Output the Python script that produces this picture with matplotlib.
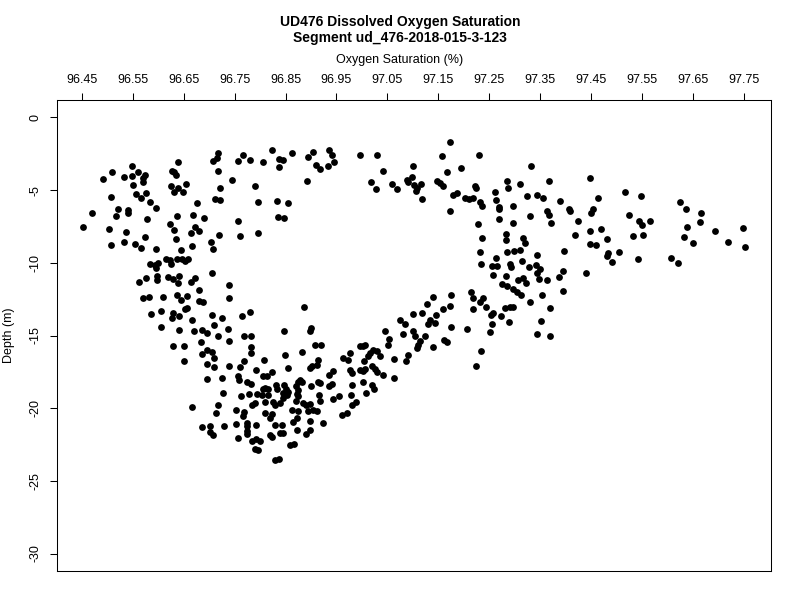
import numpy as np
import matplotlib
matplotlib.use("Agg")
import matplotlib.pyplot as plt

# --- data: (oxygen saturation %, depth m), by region ---
shallow_west = [
    (96.718, -2.45), (96.708, -2.98), (96.715, -2.82), (96.767, -2.59), (96.780, -2.91), (96.756, -2.98),
    (96.639, -3.09), (96.548, -3.37), (96.509, -3.74), (96.561, -3.78), (96.574, -3.94), (96.548, -4.06),
    (96.533, -4.10), (96.569, -4.19), (96.570, -4.47), (96.492, -4.24), (96.626, -3.67), (96.631, -3.74),
    (96.635, -3.94), (96.717, -3.67), (96.745, -4.29), (96.789, -4.75), (96.795, -5.83), (96.550, -4.63),
    (96.624, -4.70), (96.639, -4.82), (96.654, -4.56), (96.630, -5.11), (96.649, -5.16), (96.721, -4.86),
    (96.507, -5.44), (96.557, -5.30), (96.566, -5.57), (96.576, -5.23), (96.584, -5.80), (96.676, -5.87),
    (96.712, -5.64), (96.721, -5.67), (96.595, -6.26), (96.520, -6.31), (96.540, -6.36), (96.540, -6.54),
    (96.517, -6.75), (96.470, -6.54), (96.636, -6.79), (96.669, -6.72), (96.690, -6.93), (96.757, -7.12),
    (96.578, -7.02), (96.453, -7.51), (96.504, -7.64), (96.623, -7.34), (96.630, -7.71), (96.672, -7.51),
    (96.680, -7.80), (96.664, -7.97), (96.536, -7.87), (96.635, -8.36), (96.719, -8.10), (96.761, -8.15),
    (96.795, -7.92), (96.507, -8.79), (96.532, -8.56), (96.554, -8.68), (96.566, -8.95), (96.573, -8.22),
    (96.595, -9.02), (96.644, -9.11), (96.666, -8.84), (96.703, -8.56), (96.708, -9.02), (96.616, -9.71),
    (96.623, -9.81), (96.636, -9.76), (96.646, -9.76), (96.659, -9.71), (96.652, -9.87), (96.624, -10.10),
    (96.584, -10.10), (96.593, -10.17), (96.599, -9.99), (96.595, -10.33), (96.705, -10.72), (96.563, -11.32),
    (96.576, -11.07), (96.598, -10.91), (96.597, -11.19), (96.620, -10.95), (96.629, -11.14), (96.641, -10.91),
    (96.639, -11.41), (96.664, -11.32), (96.672, -11.07), (96.679, -11.87), (96.739, -11.51),
]

shallow_mid = [
    (96.823, -2.22), (96.805, -3.09), (96.838, -2.86), (96.845, -2.91), (96.838, -3.39), (96.863, -2.45),
    (96.895, -2.72), (96.903, -2.36), (96.935, -2.22), (96.942, -2.56), (96.910, -3.25), (96.918, -3.55),
    (96.933, -3.32), (96.945, -3.09), (96.893, -4.40), (96.833, -5.78), (96.855, -5.90), (96.836, -6.84),
    (96.847, -6.93), (96.996, -2.59), (97.030, -2.59), (97.041, -3.67), (97.017, -4.43), (97.028, -4.93),
    (97.060, -4.59), (97.069, -4.93), (97.101, -3.32), (97.088, -4.29), (97.098, -4.08), (97.091, -4.47),
    (97.102, -4.66), (97.108, -4.82), (97.106, -5.07), (97.116, -4.59), (97.117, -5.62),
]

shallow_east = [
    (97.173, -1.67), (97.157, -2.63), (97.230, -2.56), (97.195, -3.48), (97.168, -3.76), (97.148, -4.36),
    (97.153, -4.52), (97.160, -4.70), (97.332, -3.32), (97.222, -4.70), (97.224, -4.82), (97.284, -4.36),
    (97.287, -4.86), (97.310, -4.59), (97.367, -4.36), (97.447, -4.17), (97.179, -5.32), (97.186, -5.21),
    (97.203, -5.51), (97.211, -5.62), (97.218, -5.55), (97.231, -5.85), (97.235, -6.08), (97.262, -5.16),
    (97.263, -5.69), (97.270, -6.13), (97.269, -6.31), (97.296, -6.08), (97.325, -5.41), (97.343, -5.32),
    (97.356, -5.55), (97.390, -5.74), (97.407, -6.31), (97.409, -6.47), (97.464, -5.51), (97.453, -6.31),
    (97.450, -6.54), (97.173, -6.42), (97.269, -7.00), (97.297, -7.23), (97.330, -6.77), (97.363, -6.42),
    (97.368, -6.72), (97.371, -7.28), (97.425, -7.12), (97.227, -7.32), (97.236, -8.29), (97.282, -8.01),
    (97.283, -8.40), (97.316, -8.26), (97.320, -8.66), (97.448, -7.80), (97.469, -7.64), (97.418, -8.08),
    (97.481, -8.38), (97.448, -8.70), (97.459, -8.77), (97.231, -9.25), (97.233, -10.08), (97.284, -9.25),
    (97.299, -9.18), (97.310, -9.11), (97.343, -9.48), (97.397, -9.16), (97.483, -9.34), (97.481, -9.53),
    (97.504, -9.23), (97.492, -9.94), (97.263, -9.67), (97.256, -10.24), (97.265, -10.24), (97.291, -10.10),
    (97.293, -10.27), (97.314, -9.87), (97.329, -10.27), (97.342, -10.15), (97.343, -10.72), (97.350, -10.45),
    (97.347, -11.09), (97.258, -10.84), (97.282, -10.93), (97.307, -11.21), (97.317, -11.02), (97.322, -11.37),
    (97.275, -11.43), (97.284, -11.60), (97.297, -11.78), (97.305, -11.99), (97.364, -11.19), (97.388, -10.98),
    (97.394, -10.56), (97.440, -10.68), (97.394, -11.97), (97.214, -12.01),
]

far_east = [
    (97.517, -5.16), (97.548, -5.39), (97.525, -6.72), (97.545, -7.12), (97.550, -7.39), (97.565, -7.12),
    (97.532, -8.15), (97.553, -8.06), (97.542, -9.74), (97.624, -5.80), (97.636, -6.31), (97.666, -6.56),
    (97.664, -7.16), (97.639, -7.51), (97.633, -8.22), (97.651, -8.66), (97.694, -7.80), (97.719, -8.59),
    (97.748, -7.60), (97.752, -8.89), (97.607, -9.67), (97.621, -9.99),
]

deep_west = [
    (96.569, -12.45), (96.582, -12.36), (96.610, -12.36), (96.636, -12.22), (96.644, -12.59), (96.656, -12.31),
    (96.680, -12.63), (96.687, -12.68), (96.739, -12.40), (96.586, -13.55), (96.605, -13.32), (96.626, -13.78),
    (96.629, -13.43), (96.641, -13.67), (96.652, -13.21), (96.657, -13.09), (96.667, -13.90), (96.705, -13.62),
    (96.726, -13.83), (96.764, -13.64), (96.780, -13.37), (96.606, -14.43), (96.640, -14.59), (96.671, -14.66),
    (96.686, -14.59), (96.696, -14.82), (96.709, -14.29), (96.717, -15.00), (96.737, -14.52), (96.739, -15.39),
    (96.768, -15.02), (96.782, -15.05), (96.629, -15.74), (96.651, -15.74), (96.684, -15.44), (96.695, -15.97),
    (96.685, -16.26), (96.705, -16.12), (96.709, -16.54), (96.783, -15.81), (96.782, -16.19), (96.651, -16.77),
    (96.696, -16.95), (96.709, -17.19), (96.739, -17.07), (96.760, -17.19), (96.768, -16.77), (96.791, -17.34),
    (96.695, -17.99), (96.725, -17.92), (96.757, -17.76), (96.759, -18.03), (96.774, -18.22), (96.783, -18.33),
    (96.728, -18.93), (96.762, -19.18), (96.779, -19.00), (96.794, -19.02), (96.790, -19.64), (96.785, -19.76),
    (96.666, -19.90), (96.717, -19.81), (96.713, -20.36), (96.753, -20.13), (96.768, -20.26), (96.767, -20.56),
    (96.686, -21.28), (96.701, -21.25), (96.729, -21.21), (96.701, -21.64), (96.707, -21.83), (96.752, -21.09),
    (96.774, -21.00), (96.775, -21.25), (96.774, -21.60), (96.775, -21.78), (96.791, -21.18), (96.757, -22.06),
    (96.785, -22.29), (96.792, -22.10), (96.790, -22.79), (96.796, -22.86),
]

deep_mid = [
    (96.887, -13.02), (96.847, -14.66), (96.900, -14.47), (96.897, -14.66), (96.908, -15.62), (96.920, -15.67),
    (96.882, -16.12), (96.848, -16.31), (96.808, -16.70), (96.854, -17.23), (96.897, -17.23), (96.901, -17.11),
    (96.914, -16.70), (96.911, -17.00), (96.806, -17.81), (96.813, -17.78), (96.823, -17.53), (96.805, -18.68),
    (96.816, -18.66), (96.831, -18.38), (96.834, -18.68), (96.847, -18.38), (96.851, -18.66), (96.845, -18.95),
    (96.854, -18.88), (96.874, -18.19), (96.878, -18.03), (96.882, -18.19), (96.870, -18.50), (96.875, -18.72),
    (96.873, -19.02), (96.875, -19.18), (96.870, -19.48), (96.885, -19.64), (96.891, -19.76), (96.898, -19.71),
    (96.900, -18.50), (96.914, -18.19), (96.918, -18.26), (96.916, -19.07), (96.918, -19.48), (96.904, -20.10),
    (96.911, -20.17), (96.895, -20.22), (96.862, -20.10), (96.875, -20.22), (96.872, -20.68), (96.865, -20.98),
    (96.897, -20.91), (96.924, -21.02), (96.898, -21.48), (96.891, -21.78), (96.872, -21.53), (96.842, -21.14),
    (96.829, -21.18), (96.819, -20.68), (96.823, -20.40), (96.810, -20.33), (96.810, -19.57), (96.826, -19.57),
    (96.829, -19.76), (96.839, -19.64), (96.852, -19.07), (96.845, -19.30), (96.816, -19.07), (96.803, -19.07),
    (96.810, -18.61), (96.845, -21.71), (96.840, -21.71), (96.823, -22.01), (96.819, -21.83), (96.800, -22.29),
    (96.859, -22.52), (96.867, -22.47), (96.829, -23.57), (96.838, -23.48), (96.935, -18.50), (96.942, -18.33),
    (96.935, -17.69), (96.944, -17.41), (96.943, -19.34), (96.954, -19.18), (96.960, -20.49), (96.970, -20.33),
    (96.980, -19.76), (96.988, -19.57), (96.978, -19.07), (96.980, -18.38), (96.977, -17.34), (96.980, -17.57),
    (97.003, -18.22), (97.008, -18.95), (97.019, -18.38), (97.024, -18.68), (97.003, -17.41), (97.006, -17.28),
    (96.996, -17.34), (97.004, -16.77), (97.019, -17.11), (97.026, -17.30), (97.029, -17.50), (97.042, -17.74),
    (97.063, -17.92), (97.062, -16.59), (96.962, -16.54), (96.972, -16.66), (96.977, -16.19), (97.003, -15.74),
    (96.996, -15.74), (97.006, -15.67), (97.016, -16.19), (97.012, -16.43), (97.022, -15.97), (97.029, -16.08),
    (97.035, -16.43), (97.052, -15.62), (97.054, -15.21), (97.045, -14.66), (97.081, -14.93), (97.086, -16.77),
    (97.091, -16.31), (97.100, -14.70), (97.104, -15.05), (97.111, -15.62), (97.114, -15.39), (97.108, -15.85),
    (97.124, -15.05), (97.139, -15.81), (97.075, -13.90), (97.085, -14.20), (97.100, -13.55), (97.117, -13.48),
    (97.127, -12.86), (97.140, -12.36), (97.134, -13.90), (97.143, -14.13), (97.130, -14.20), (97.145, -13.60),
]

mid_east = [
    (97.175, -12.22), (97.218, -12.45), (97.238, -12.45), (97.232, -12.68), (97.312, -12.22), (97.353, -12.24),
    (97.330, -12.68), (97.159, -13.21), (97.172, -12.98), (97.174, -14.43), (97.218, -13.21), (97.244, -13.05),
    (97.253, -13.60), (97.258, -13.43), (97.256, -14.20), (97.252, -14.75), (97.273, -13.67), (97.281, -13.09),
    (97.291, -13.05), (97.297, -13.02), (97.288, -14.06), (97.206, -14.54), (97.161, -15.30), (97.168, -15.46),
    (97.233, -16.10), (97.224, -17.09), (97.352, -14.01), (97.369, -13.11), (97.343, -14.91), (97.369, -15.05),
]

x_ticks = [96.45, 96.55, 96.65, 96.75, 96.85, 96.95, 97.05, 97.15, 97.25, 97.35, 97.45, 97.55, 97.65, 97.75]
y_ticks = [0, -5, -10, -15, -20, -25, -30]

pts = np.array(shallow_west + shallow_mid + shallow_east + far_east + deep_west + deep_mid + mid_east)

plt.rcParams['font.family'] = ['Liberation Sans', 'DejaVu Sans']

fig = plt.figure(figsize=(8, 6), dpi=100)
ax = fig.add_axes([57/800, 29/600, 714/800, 471/600])

ax.scatter(pts[:, 0], pts[:, 1], s=24, c='black', linewidths=0)

ax.set_xlim(96.401, 97.8035)
ax.set_ylim(-31.2, 1.2)

ax.xaxis.tick_top()
ax.set_xticks(x_ticks)
ax.set_xticklabels([f"{t:.2f}" for t in x_ticks])
ax.set_yticks(y_ticks)
ax.set_yticklabels([str(t) for t in y_ticks], rotation=90, va='center')
ax.tick_params(axis='both', length=5, width=0.75, labelsize=9, colors='black')
ax.tick_params(axis='x', pad=5)
ax.tick_params(axis='y', pad=6)
for sp in ax.spines.values():
    sp.set_linewidth(0.75)

# --- 見出し ---
fig.text(0.5, 1 - 22/600, "UD476 Dissolved Oxygen Saturation", ha='center', va='center',
         fontsize=10, fontweight='bold')
fig.text(0.5, 1 - 38/600, "Segment ud_476-2018-015-3-123", ha='center', va='center',
         fontsize=10, fontweight='bold')
fig.text(0.5, 1 - 60/600, "Oxygen Saturation (%)", ha='center', va='center', fontsize=9)
fig.text(9/800, 1 - 335/600, "Depth (m)", ha='center', va='center', rotation=90, fontsize=9)

fig.savefig("out.png", dpi=100)
